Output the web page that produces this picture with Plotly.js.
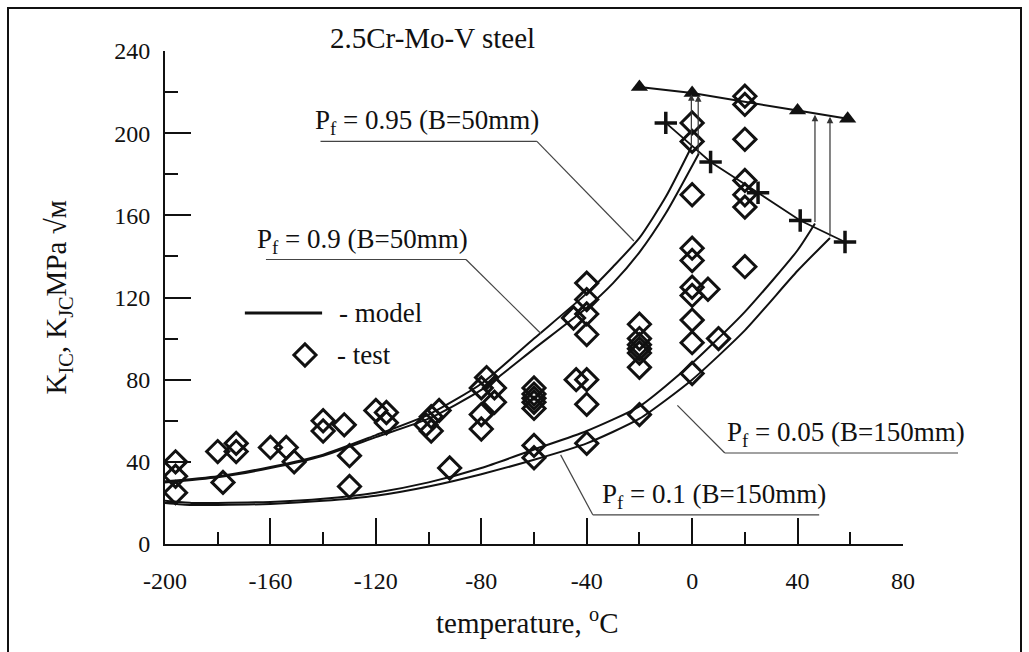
<!DOCTYPE html>
<html>
<head>
<meta charset="utf-8">
<script src="https://cdn.plot.ly/plotly-3.0.1.min.js"></script>
<style>
  html, body { margin: 0; padding: 0; background: #fff; }
  #chart { width: 1029px; height: 652px; }
  #frame { position: absolute; left: 7px; top: 7px; width: 1015px; height: 660px;
           border: 2px solid #111; pointer-events: none; box-sizing: border-box; }
</style>
</head>
<body>
<div id="chart"></div>
<div id="frame"></div>
<script>
// ---- model curves ----
const pf095T = [-200, -180, -160, -140, -120, -100, -80, -60, -40, -30, -20, -10, 0];
const pf095K = [30.5, 33, 37.5, 43.5, 53, 63, 78, 100, 122, 135, 149, 169, 194];
const pf09T  = [-200, -180, -160, -140, -120, -100, -80, -60, -40, -30, -20, -10, 2.5];
const pf09K  = [30, 32.5, 37, 43, 52, 61, 75, 95, 115, 127, 142, 161, 190];
const pf01T  = [-200, -190, -180, -160, -140, -120, -100, -80, -60, -40, -20, 0, 20, 40, 46.6];
const pf01K  = [21, 20, 20, 20.5, 22, 25, 30, 37, 46, 55, 67, 88, 113, 143, 156];
const pf005T = [-200, -190, -180, -160, -140, -120, -100, -80, -60, -40, -20, 0, 20, 40, 52.3];
const pf005K = [20, 19, 19, 19.5, 21, 23.5, 28, 34, 41, 49, 61, 80, 104, 133, 149];

// ---- upper-shelf lines ----
const triT = [-20, 0, 40, 59];
const triK = [222.5, 219.5, 211, 207];
const crossT = [-10, 7, 25, 41, 58];
const crossK = [205, 186, 171, 157.5, 147];

// ---- arrows (from curve tops up to the triangle line) ----
const arrowT    = [-0.3, 2.3, 46.6, 52.3];
const arrowFrom = [193, 189, 156, 149];
const arrowTo   = [219, 218.5, 209, 208];

// ---- test data (diamonds) ----
const testT = [
  -196, -196, -196, -180, -178, -173, -173, -160, -154, -151,
  -140, -140, -132, -130, -130, -120, -116, -116,
  -101, -99, -99, -96, -92,
  -80, -80, -80, -78, -75, -75,
  -60, -60, -60, -60, -60, -60, -60,
  -45, -44, -40, -40, -40, -40, -40, -40, -40,
  -20, -20, -20, -20, -20, -20, -20,
  0, 0, 0, 0, 0, 0, 0, 0, 0, 0,
  6, 10,
  20, 20, 20, 20, 20, 20, 20
];
const testK = [
  40, 33, 25, 45, 30, 49, 45, 47, 47, 40,
  60, 55, 58, 43, 28, 65, 64, 59,
  58, 62, 55, 65, 37,
  76, 63, 56, 81, 76, 69,
  76, 73, 71, 69, 66, 48, 42,
  110, 80, 127, 119, 112, 102, 80, 68, 49,
  107, 100, 97, 95, 93, 86, 63,
  205, 196, 170, 144, 138, 125, 121, 109, 98, 83,
  124, 100,
  218, 214, 197, 177, 170, 164, 135
];

// ---- axis ticks ----
const xTicks = [-200, -160, -120, -80, -40, 0, 40, 80];
const yTicks = [0, 40, 80, 120, 160, 200, 240];

const FONT = '"Liberation Serif", "Times New Roman", "DejaVu Serif", serif';
const INK = '#111';

function curve(x, y) {
  return { x: x, y: y, type: 'scatter', mode: 'lines',
           line: { color: INK, width: 2, shape: 'spline', smoothing: 0.6 },
           hoverinfo: 'skip', showlegend: false };
}

const DIAMOND = { symbol: 'diamond-open', size: 17, color: INK, line: { width: 3, color: INK } };

const traces = [
  curve(pf095T, pf095K),
  curve(pf09T, pf09K),
  curve(pf01T, pf01K),
  curve(pf005T, pf005K),
  { x: triT, y: triK, type: 'scatter', mode: 'lines+markers',
    line: { color: INK, width: 2 },
    marker: { symbol: 'triangle-up', size: 15, color: INK }, showlegend: false },
  { x: crossT, y: crossK, type: 'scatter', mode: 'lines+markers',
    line: { color: INK, width: 1.8 },
    marker: { symbol: 'cross-thin-open', size: 16, color: INK, line: { width: 3.5, color: INK } },
    showlegend: false },
  { x: testT, y: testK, type: 'scatter', mode: 'markers', marker: DIAMOND, showlegend: false },
  // legend key diamond
  { x: [-146.9], y: [92], type: 'scatter', mode: 'markers', marker: DIAMOND, showlegend: false }
];

const LEAD = { color: '#444', width: 1.2 };
function seg(x0, y0, x1, y1, line) {
  return { type: 'line', xref: 'x', yref: 'y', x0: x0, y0: y0, x1: x1, y1: y1, line: line || LEAD };
}
// paper x for a pixel column (plot area starts at 165px, 738px wide)
function px(p) { return (p - 165) / 738; }

const shapes = [
  // P=0.95 leader
  seg(-141, 196, -58.9, 196), seg(-58.9, 196, -22.1, 147.5),
  // P=0.9 leader
  seg(-161.7, 138.5, -85.8, 138.5), seg(-85.8, 138.5, -57.4, 102.5),
  // P=0.05 leader
  seg(-5.6, 67.5, 12.4, 44.3),
  { type: 'line', xref: 'paper', yref: 'y', x0: px(725), x1: px(958), y0: 44.3, y1: 44.3, line: LEAD },
  // P=0.1 leader
  seg(-49.9, 43.4, -37.7, 14.2), seg(-37.7, 14.2, 48.2, 14.2),
  // legend line
  seg(-169.7, 112.4, -140.4, 112.4, { color: INK, width: 3 })
];

const annFont = { family: FONT, size: 27, color: INK };
const annotations = [
  { xref: 'x', yref: 'paper', x: -138, y: 1.026, xanchor: 'left', yanchor: 'middle',
    text: '2.5Cr-Mo-V steel', showarrow: false, font: { family: FONT, size: 29, color: INK } },
  { xref: 'x', yref: 'y', x: -144, y: 196, xanchor: 'left', yanchor: 'bottom',
    text: 'P<sub>f</sub> = 0.95 (B=50mm)', showarrow: false, font: annFont },
  { xref: 'x', yref: 'y', x: -166, y: 138.5, xanchor: 'left', yanchor: 'bottom',
    text: 'P<sub>f</sub> = 0.9 (B=50mm)', showarrow: false, font: annFont },
  { xref: 'x', yref: 'y', x: 12.4, y: 44.3, xanchor: 'left', yanchor: 'bottom',
    text: 'P<sub>f</sub> = 0.05 (B=150mm)', showarrow: false, font: annFont },
  { xref: 'x', yref: 'y', x: -35, y: 14.2, xanchor: 'left', yanchor: 'bottom',
    text: 'P<sub>f</sub> = 0.1 (B=150mm)', showarrow: false, font: annFont },
  { xref: 'x', yref: 'y', x: -134.7, y: 112.4, xanchor: 'left', yanchor: 'middle',
    text: '- model', showarrow: false, font: annFont },
  { xref: 'x', yref: 'y', x: -135.5, y: 92, xanchor: 'left', yanchor: 'middle',
    text: '- test', showarrow: false, font: annFont },
  // axis titles
  { xref: 'paper', yref: 'paper', x: 0.49, y: -0.156, xanchor: 'center', yanchor: 'middle',
    text: 'temperature, <sup>o</sup>C',
    showarrow: false, font: { family: FONT, size: 29, color: INK } },
  { xref: 'paper', yref: 'paper', x: -0.145, y: 0.5, xanchor: 'center', yanchor: 'middle', textangle: -90,
    text: 'K<sub>IC</sub>, K<sub>JC</sub>MPa \u221A\u043C',
    showarrow: false, font: { family: FONT, size: 29, color: INK } }
];

arrowT.forEach(function (t, i) {
  annotations.push({ xref: 'x', yref: 'y', axref: 'x', ayref: 'y',
    x: t, y: arrowTo[i], ax: t, ay: arrowFrom[i], text: '',
    showarrow: true, arrowhead: 2, arrowsize: 1.1, arrowwidth: 1.2, arrowcolor: '#333' });
});

const axisCommon = {
  showgrid: false, zeroline: false, showline: true, linecolor: INK, linewidth: 2,
  ticks: 'inside', ticklen: 26, tickwidth: 2, tickcolor: INK,
  tickfont: { family: FONT, size: 24, color: INK }, fixedrange: true
};

const layout = {
  width: 1029, height: 652,
  margin: { l: 165, r: 126, t: 51, b: 108, pad: 0 },
  paper_bgcolor: '#fff', plot_bgcolor: '#fff',
  font: { family: FONT, color: INK },
  showlegend: false,
  xaxis: Object.assign({}, axisCommon, {
    range: [-200, 80], tickvals: xTicks, ticktext: xTicks.map(String),
    ticklabelstandoff: 14,
    minor: { tickvals: [-180, -140, -100, -60, -20, 20, 60], ticks: 'inside', ticklen: 12, tickwidth: 2, tickcolor: INK }
  }),
  yaxis: Object.assign({}, axisCommon, {
    range: [0, 240], tickvals: yTicks, ticktext: yTicks.map(String),
    ticklabelstandoff: 8,
    minor: { tickvals: [20, 60, 100, 140, 180, 220], ticks: 'inside', ticklen: 13, tickwidth: 2, tickcolor: INK }
  }),
  shapes: shapes,
  annotations: annotations
};

Plotly.newPlot('chart', traces, layout, { displayModeBar: false, staticPlot: true });
</script>
</body>
</html>
